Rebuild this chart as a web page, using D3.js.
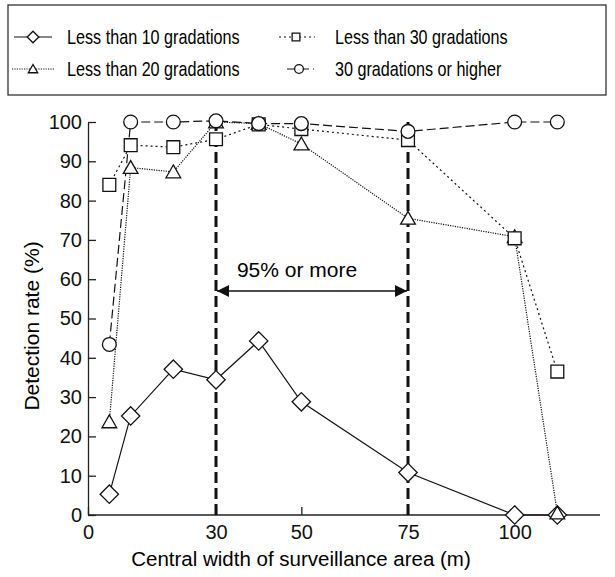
<!DOCTYPE html>
<html>
<head>
<meta charset="utf-8">
<title>Detection rate</title>
<script src="https://cdn.jsdelivr.net/npm/d3@7"></script>
<style>
  body { margin: 0; background: #fff; }
  svg { display: block; font-family: "Liberation Sans", Arial, Helvetica, sans-serif; }
  .axis path, .axis line { stroke: #222; stroke-width: 1.3px; }
  .axis text { font-size: 20px; fill: #111; }
  .series { fill: none; stroke: #111; stroke-width: 1.2px; }
  .mark { fill: #fff; stroke: #111; stroke-width: 1.3px; }
</style>
</head>
<body>
<svg width="615" height="577"></svg>
<script>
// widths (m) and detection rates (%)
var widths = [5, 10, 20, 30, 40, 50, 75, 100, 110];
var lt10 = [5.3, 25.2, 37.1, 34.4, 44.3, 28.8, 10.8, 0, 0];
var lt20 = [23.7, 88.4, 87.3, 100, 99.6, 94.4, 75.5, 70.8, 0.5];
var lt30 = [84, 94.1, 93.6, 95.6, 99.4, 98.2, 95.4, 70.4, 36.5];
var ge30 = [43.4, 100, 100, 100.3, 99.6, 99.6, 97.6, 100, 100];
var xTicks = [0, 30, 50, 75, 100];
var yTicks = [0, 10, 20, 30, 40, 50, 60, 70, 80, 90, 100];
var rangeBounds = [30, 75];

var series = [
  { name: 'Less than 10 gradations', values: lt10, shape: 'diamond', dash: null },
  { name: 'Less than 20 gradations', values: lt20, shape: 'triangle', dash: '1.2,1.2' },
  { name: 'Less than 30 gradations', values: lt30, shape: 'square', dash: '2,3' },
  { name: '30 gradations or higher', values: ge30, shape: 'circle', dash: '9,4' }
];

var svg = d3.select('svg');

var x = d3.scaleLinear().domain([0, 120]).range([88, 600]);
var y = d3.scaleLinear().domain([0, 100]).range([515, 122]);

// axes, ticks pointing inward
svg.append('g')
  .attr('class', 'axis')
  .attr('transform', 'translate(0,' + y(0) + ')')
  .call(d3.axisBottom(x).tickValues(xTicks).tickSizeInner(-8).tickSizeOuter(0).tickPadding(10))
  .call(function(g) { g.select('.domain').attr('d', 'M' + x(0) + ',0H' + x(120)); });

svg.append('g')
  .attr('class', 'axis')
  .attr('transform', 'translate(' + x(0) + ',0)')
  .call(d3.axisLeft(y).tickValues(yTicks).tickSizeInner(-8).tickSizeOuter(0).tickPadding(6));

svg.selectAll('.axis .domain').attr('fill', 'none');
svg.selectAll('.axis text').attr('font-family', null);

// axis titles
svg.append('text')
  .attr('x', 301).attr('y', 566)
  .attr('text-anchor', 'middle')
  .attr('font-size', 20.5)
  .text('Central width of surveillance area (m)');

svg.append('text')
  .attr('transform', 'translate(39,' + 326 + ') rotate(-90)')
  .attr('text-anchor', 'middle')
  .attr('font-size', 21)
  .text('Detection rate (%)');

// 95% band markers
svg.selectAll('.bound')
  .data(rangeBounds)
  .enter().append('line')
  .attr('x1', function(d) { return x(d); })
  .attr('x2', function(d) { return x(d); })
  .attr('y1', y(0))
  .attr('y2', y(100))
  .attr('stroke', '#111')
  .attr('stroke-width', 3)
  .attr('stroke-dasharray', '11,5');

var defs = svg.append('defs');
defs.append('marker')
  .attr('id', 'head')
  .attr('viewBox', '0 0 10 10')
  .attr('refX', 10).attr('refY', 5)
  .attr('markerWidth', 12).attr('markerHeight', 12)
  .attr('markerUnits', 'userSpaceOnUse')
  .attr('orient', 'auto-start-reverse')
  .append('path').attr('d', 'M0,0L10,5L0,10Z').attr('fill', '#111');

svg.append('line')
  .attr('x1', x(rangeBounds[0]) + 1).attr('x2', x(rangeBounds[1]) - 1)
  .attr('y1', y(57)).attr('y2', y(57))
  .attr('stroke', '#111').attr('stroke-width', 1.5)
  .attr('marker-start', 'url(#head)')
  .attr('marker-end', 'url(#head)');

svg.append('text')
  .attr('x', 297)
  .attr('y', 277)
  .attr('text-anchor', 'middle')
  .attr('font-size', 21)
  .text('95% or more');

// lines
var line = d3.line()
  .x(function(d, i) { return x(widths[i]); })
  .y(function(d) { return y(d); });

series.forEach(function(s) {
  svg.append('path')
    .datum(s.values)
    .attr('class', 'series')
    .attr('stroke-dasharray', s.dash)
    .attr('d', line);
});

var shapes = {
  diamond: d3.symbolDiamond,
  triangle: d3.symbolTriangle,
  square: d3.symbolSquare,
  circle: d3.symbolCircle
};
var sizes = { diamond: 150, triangle: 110, square: 165, circle: 150 };

function marker(sel, shape, size) {
  if (shape === 'diamond') {
    var h = Math.sqrt(size) * 0.75;
    return sel.attr('d', 'M0,' + (-h) + 'L' + h + ',0L0,' + h + 'L' + (-h) + ',0Z');
  }
  if (shape === 'triangle') {
    var w = Math.sqrt(size) * 0.7;
    return sel.attr('d', 'M0,' + (-w * 0.95) + 'L' + w + ',' + (w * 0.8) + 'L' + (-w) + ',' + (w * 0.8) + 'Z');
  }
  return sel.attr('d', d3.symbol().type(shapes[shape]).size(size)());
}

series.forEach(function(s) {
  svg.append('g').selectAll('path')
    .data(s.values)
    .enter().append('path')
    .attr('class', 'mark')
    .attr('transform', function(d, i) { return 'translate(' + x(widths[i]) + ',' + y(d) + ')'; })
    .call(marker, s.shape, sizes[s.shape]);
});

// legend
svg.append('rect')
  .attr('x', 8).attr('y', 5).attr('width', 598).attr('height', 90)
  .attr('fill', 'none').attr('stroke', '#333').attr('stroke-width', 1.3);

var legendPos = [
  { x0: 14, x1: 52, mx: 33, tx: 67, ty: 37 },
  { x0: 12, x1: 54, mx: 33, tx: 67, ty: 69 },
  { x0: 279, x1: 315, mx: 296, tx: 335, ty: 37 },
  { x0: 287, x1: 314, mx: 299, tx: 335, ty: 69 }
];
var legendSizes = { diamond: 60, triangle: 45, square: 60, circle: 60 };

series.forEach(function(s, i) {
  var p = legendPos[i];
  var g = svg.append('g');
  g.append('line')
    .attr('x1', p.x0).attr('x2', p.x1).attr('y1', p.ty).attr('y2', p.ty)
    .attr('stroke', '#111').attr('stroke-width', 1.1)
    .attr('stroke-dasharray', s.dash);
  g.append('path')
    .attr('class', 'mark')
    .attr('stroke-width', 1.1)
    .attr('transform', 'translate(' + p.mx + ',' + p.ty + ')')
    .call(marker, s.shape, legendSizes[s.shape]);
  // slightly condensed face, as in the original figure
  g.append('text')
    .attr('transform', 'translate(' + p.tx + ',' + p.ty + ') scale(0.83,1)')
    .attr('dy', '0.35em')
    .attr('font-size', 19.5)
    .text(s.name);
});
</script>
</body>
</html>
